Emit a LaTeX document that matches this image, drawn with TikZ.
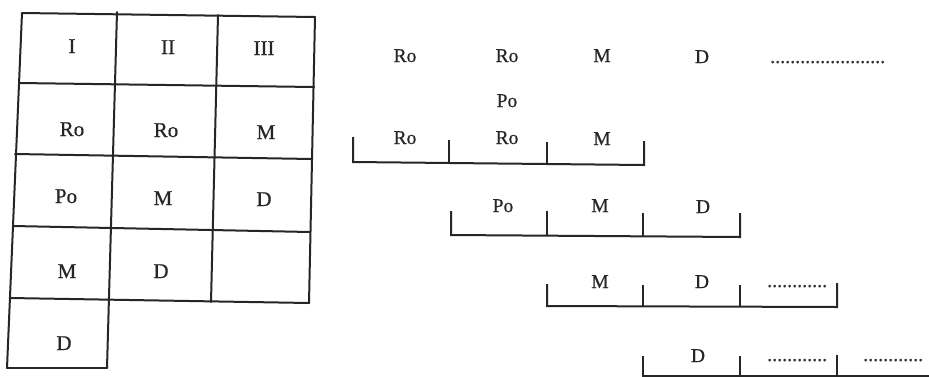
\documentclass[tikz,border=0pt]{standalone}
\usepackage{fontspec}
\setmainfont{Liberation Serif}
\newfontfamily\scanfont[FakeBold=0.6]{Liberation Serif}
\begin{document}
\begin{tikzpicture}[x=1pt,y=-1pt,
  gridline/.style={line width=2pt, line cap=round, line join=round, draw=black!85},
  brk/.style={line width=2pt, line join=miter, draw=black!85},
  tcell/.style={anchor=base, inner sep=0pt, font=\scanfont\fontsize{21}{24}\selectfont, text=black!85},
  lab/.style={anchor=base, inner sep=0pt, font=\scanfont\fontsize{19.5}{22}\selectfont, text=black!85},
  dotrow/.style={anchor=base west, inner sep=0pt, font=\scanfont\fontsize{20}{22}\selectfont, text=black!80}]
\useasboundingbox (0,0) rectangle (929,376);
\clip (0,0) rectangle (929,376);
\fill[white] (0,0) rectangle (929,376);

% ---- table grid ----
\draw[gridline] (22,13) -- (315,17);
\draw[gridline] (19,83) -- (314,87);
\draw[gridline] (15,154) -- (312,159);
\draw[gridline] (13,226) -- (310,232);
\draw[gridline] (10,298) -- (309,303);
\draw[gridline] (7,368) -- (107,368);
\draw[gridline] (22,13) -- (7,368);
\draw[gridline] (117,12) -- (107,368);
\draw[gridline] (218,15) -- (211,302);
\draw[gridline] (315,17) -- (309,303);

% ---- table texts ----
\node[tcell] (h1) at (72,53) {I};
\node[tcell] (h2) at (168,54) {II};
\node[tcell] (h3) at (264,55) {III};
\node[tcell] (a1) at (72,136) {Ro};
\node[tcell] (a2) at (166,137) {Ro};
\node[tcell] (a3) at (266,139) {M};
\node[tcell] (b1) at (66,203) {Po};
\node[tcell] (b2) at (163,205) {M};
\node[tcell] (b3) at (264,206) {D};
\node[tcell] (c1) at (67,278) {M};
\node[tcell] (c2) at (161,278) {D};
\node[tcell] (d1) at (64,350) {D};

% ---- right side: first line ----
\node[lab] (r1) at (405,62) {Ro};
\node[lab] (r2) at (507,62) {Ro};
\node[lab] (r3) at (602,62) {M};
\node[lab] (r4) at (702,63) {D};
\node[dotrow] (r5) at (770,63) {.......................};
\node[lab] (p1) at (507,107) {Po};

% ---- bracket row A ----
\node[lab] (s1) at (405,144) {Ro};
\node[lab] (s2) at (507,144) {Ro};
\node[lab] (s3) at (602,145) {M};
\draw[brk] (353,137) -- (353,162) -- (644,165) -- (644,141);
\draw[brk] (449,140) -- (449,163);
\draw[brk] (547,142) -- (547,164);

% ---- bracket row B ----
\node[lab] (u1) at (503,212) {Po};
\node[lab] (u2) at (600,212) {M};
\node[lab] (u3) at (703,213) {D};
\draw[brk] (451,211) -- (451,235) -- (740,237) -- (740,213);
\draw[brk] (547,211) -- (547,236);
\draw[brk] (643,213) -- (643,236);

% ---- bracket row C ----
\node[lab] (v1) at (600,288) {M};
\node[lab] (v2) at (702,288) {D};
\node[dotrow] (v3) at (767,287) {............};
\draw[brk] (547,284) -- (547,306) -- (837,307) -- (837,283);
\draw[brk] (643,285) -- (643,306);
\draw[brk] (740,285) -- (740,307);

% ---- bracket row D ----
\node[lab] (w1) at (698,362) {D};
\node[dotrow] (w2) at (767,361) {............};
\node[dotrow] (w3) at (863,361) {............};
\draw[brk] (643,356) -- (643,376) -- (940,376);
\draw[brk] (740,356) -- (740,376);
\draw[brk] (837,355) -- (837,376);
\end{tikzpicture}
\end{document}
